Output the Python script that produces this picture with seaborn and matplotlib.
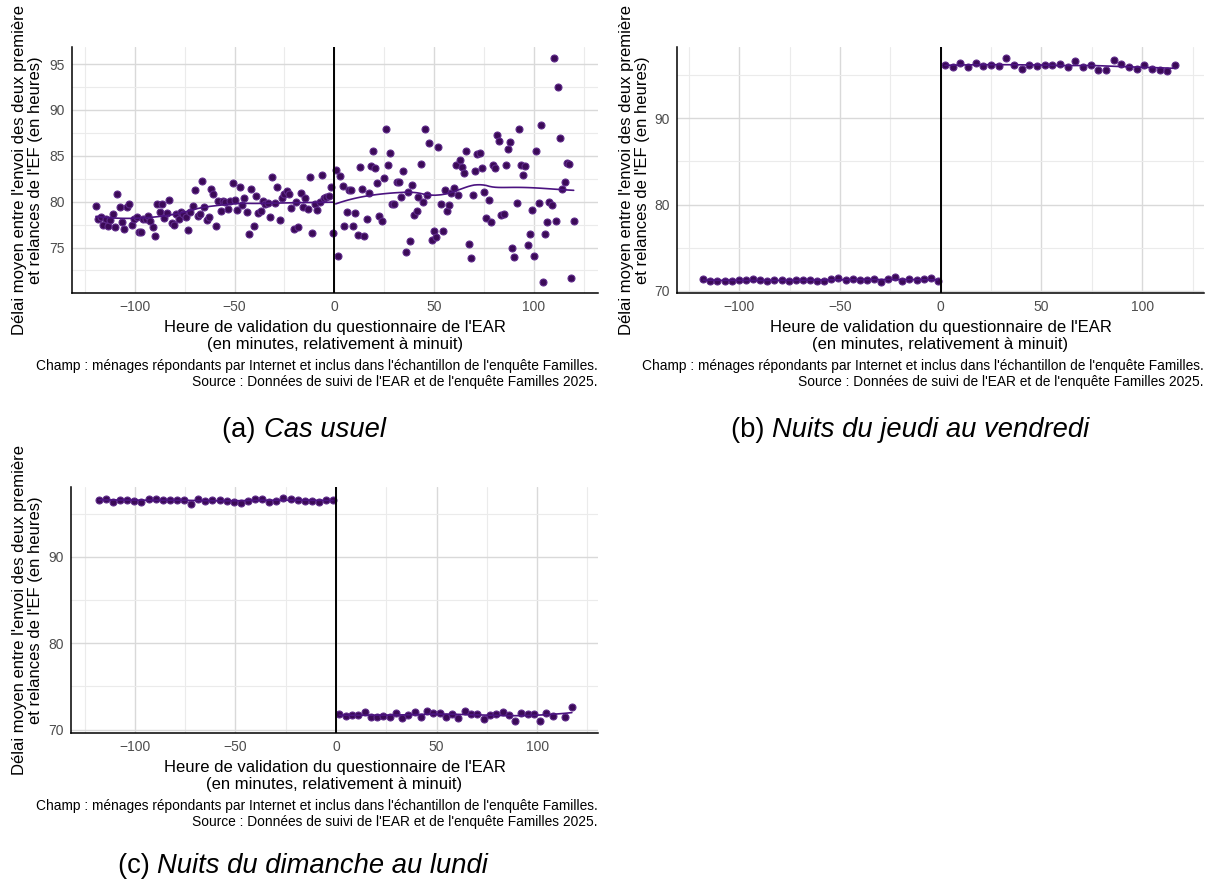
import numpy as np
import pandas as pd
import seaborn as sns
from matplotlib import pyplot as plt

# ---- data (minutes vs hours) ----
# (a) cas usuel
a_left_x = [-119.5, -118.4, -117.2, -115.8, -114.7, -113.6, -112.3, -111.1, -110.0, -108.8,
            -107.6, -106.5, -105.3, -104.0, -102.8, -101.6, -100.3, -99.1, -97.9, -96.9,
            -95.8, -94.6, -93.4, -92.3, -91.1, -89.9, -88.8, -87.6, -86.3, -85.3,
            -84.1, -82.9, -81.5, -80.4, -79.2, -78.0, -76.9, -75.7, -74.5, -73.4,
            -72.2, -71.0, -69.9, -68.5, -67.4, -66.4, -65.2, -64.0, -62.8, -61.8,
            -60.7, -59.3, -58.2, -57.0, -55.8, -54.7, -53.5, -52.2, -51.0, -49.8,
            -48.6, -47.4, -46.3, -45.1, -43.9, -42.8, -41.6, -40.4, -39.3, -38.1,
            -36.9, -35.8, -34.6, -33.4, -32.1, -31.1, -29.9, -28.7, -27.4, -26.2,
            -25.1, -23.9, -22.7, -21.6, -20.4, -19.2, -18.1, -16.9, -15.7, -14.5,
            -13.3, -12.2, -11.0, -9.8, -8.5, -7.3, -6.3, -5.2, -4.0, -2.8, -1.7, -0.5]
a_left_y = [79.53, 78.10, 78.30, 77.46, 78.10, 77.30, 78.00, 78.66, 77.20, 80.80,
            79.40, 77.80, 77.00, 79.45, 79.70, 77.50, 78.10, 78.30, 76.66, 76.70,
            78.15, 78.10, 78.40, 77.90, 77.20, 76.26, 79.80, 78.84, 79.75, 78.25,
            78.80, 80.20, 77.70, 77.50, 78.70, 78.10, 78.90, 78.70, 78.30, 76.90,
            78.90, 79.50, 81.30, 78.40, 78.70, 82.26, 79.45, 78.00, 78.30, 81.35,
            80.84, 77.40, 80.08, 79.00, 80.08, 79.97, 79.24, 80.08, 82.00, 80.15,
            79.10, 81.57, 79.64, 80.44, 78.90, 76.48, 81.35, 77.35, 80.62, 78.80,
            78.99, 80.08, 79.75, 79.89, 78.30, 82.66, 79.89, 81.64, 78.00, 80.37,
            80.80, 81.17, 80.80, 79.35, 76.99, 80.00, 77.27, 80.98, 79.45, 80.37,
            79.20, 82.73, 76.62, 79.72, 79.10, 79.97, 82.88, 80.44, 80.55, 80.65, 81.64, 76.62]
a_right_x = [0.7, 1.9, 3.0, 4.2, 5.0, 6.2, 7.4, 8.5, 9.5, 10.5,
             11.7, 12.9, 13.9, 15.0, 16.2, 17.3, 18.3, 19.4, 20.6, 21.6,
             22.6, 23.8, 24.9, 26.1, 27.1, 28.1, 29.1, 30.1, 31.3, 32.4,
             33.6, 34.6, 35.8, 37.0, 38.0, 39.1, 40.1, 41.3, 42.1, 43.3,
             44.5, 45.6, 46.6, 47.6, 48.8, 50.0, 51.2, 52.2, 53.4, 54.4,
             55.4, 56.5, 57.7, 58.7, 59.9, 60.9, 62.0, 63.0, 64.0, 65.0,
             66.2, 67.6, 68.6, 69.7, 70.7, 71.7, 72.9, 74.1, 75.1, 76.2,
             77.4, 78.4, 79.4, 80.6, 81.7, 82.7, 83.7, 84.9, 86.1, 87.1,
             88.3, 89.3, 90.3, 91.5, 92.5, 93.5, 94.6, 95.8, 97.0, 98.0,
             99.2, 100.3, 101.3, 102.5, 103.5, 104.7, 105.8, 106.8, 107.8, 109.0,
             110.2, 111.2, 112.2, 113.3, 114.3, 115.5, 116.5, 117.7, 118.9, 120.0]
a_right_y = [83.50, 74.10, 82.80, 81.70, 77.35, 78.84, 81.28, 81.28, 77.35, 78.73,
             76.37, 83.78, 81.42, 76.23, 78.15, 80.90, 83.90, 85.50, 83.64, 82.07,
             78.44, 77.90, 82.62, 87.93, 84.00, 85.28, 79.75, 79.75, 82.15, 82.18,
             80.55, 83.38, 74.55, 81.06, 75.68, 81.79, 78.55, 78.99, 80.48, 84.11,
             80.00, 87.96, 80.70, 86.37, 75.82, 76.84, 76.18, 85.93, 79.75, 76.80,
             81.24, 79.02, 79.64, 80.98, 81.53, 83.97, 80.73, 84.51, 83.75, 83.16,
             85.50, 75.39, 73.86, 80.76, 83.38, 85.20, 85.34, 83.64, 81.09, 78.22,
             80.15, 77.75, 84.03, 83.64, 87.27, 86.62, 78.58, 78.66, 84.03, 85.71,
             86.54, 74.92, 73.97, 79.83, 87.96, 84.03, 82.94, 83.86, 75.28, 76.45,
             79.10, 74.08, 85.50, 79.89, 88.36, 71.21, 76.48, 77.82, 79.97, 79.64,
             95.67, 77.90, 92.48, 86.91, 81.38, 82.18, 84.22, 84.08, 71.65, 77.90]

# (b) nuits du jeudi au vendredi / (c) nuits du dimanche au lundi
bins_left_x = [-117.9, -114.4, -110.9, -107.3, -103.8, -100.3, -96.8, -93.2, -89.7, -86.2,
               -82.6, -79.1, -75.6, -72.1, -68.5, -65.0, -61.5, -57.9, -54.4, -50.9,
               -47.3, -43.8, -40.3, -36.8, -33.2, -29.7, -26.2, -22.6, -19.1, -15.6,
               -12.0, -8.5, -5.0, -1.5]
b_left_y = [71.32, 71.17, 71.17, 71.17, 71.17, 71.24, 71.24, 71.32, 71.24, 71.09,
            71.24, 71.24, 71.17, 71.24, 71.24, 71.24, 71.09, 71.17, 71.32, 71.52,
            71.24, 71.40, 71.24, 71.24, 71.40, 71.01, 71.40, 71.56, 71.09, 71.32,
            71.24, 71.40, 71.48, 71.09]
b_right_x = [2.1, 5.9, 9.7, 13.5, 17.3, 21.1, 24.9, 28.8, 32.6, 36.4,
             40.2, 44.0, 47.8, 51.6, 55.4, 59.2, 63.0, 66.8, 70.6, 74.4,
             78.3, 82.1, 85.9, 89.7, 93.5, 97.3, 101.1, 104.9, 108.7, 112.5, 116.3]
b_right_y = [96.18, 95.95, 96.45, 95.95, 96.45, 96.07, 96.22, 96.07, 97.03, 96.18,
             95.68, 96.14, 96.07, 96.18, 96.18, 96.30, 95.99, 96.61, 95.95, 96.18,
             95.56, 95.56, 96.76, 96.34, 95.91, 95.68, 96.18, 95.72, 95.60, 95.53, 96.22]
c_left_y = [96.62, 96.74, 96.35, 96.62, 96.62, 96.43, 96.39, 96.66, 96.66, 96.62,
            96.54, 96.54, 96.54, 96.16, 96.74, 96.47, 96.62, 96.62, 96.47, 96.39,
            96.24, 96.47, 96.66, 96.66, 96.39, 96.47, 96.85, 96.70, 96.62, 96.47,
            96.47, 96.31, 96.54, 96.62]
c_right_x = [1.7, 4.8, 8.0, 11.1, 14.3, 17.3, 20.4, 23.6, 26.7, 29.9,
             32.8, 36.0, 39.1, 42.3, 45.3, 48.4, 51.6, 54.7, 57.9, 60.9,
             64.0, 67.2, 70.3, 73.5, 76.6, 79.8, 82.9, 86.1, 89.1, 92.2,
             95.4, 98.5, 101.7, 104.6, 107.8, 114.1, 117.3]
c_right_y = [71.77, 71.54, 71.69, 71.73, 72.00, 71.50, 71.50, 71.62, 71.50, 71.92,
             71.35, 71.73, 72.00, 71.50, 72.15, 71.92, 71.92, 71.50, 71.85, 71.38,
             72.15, 71.81, 71.81, 71.27, 71.65, 71.77, 72.04, 71.69, 70.96, 71.96,
             71.77, 71.81, 71.00, 71.88, 71.62, 71.50, 72.58]

y_title = "Délai moyen entre l'envoi des deux première\net relances de l'EF (en heures)"
x_title = "Heure de validation du questionnaire de l'EAR\n(en minutes, relativement à minuit)"
note = ("Champ : ménages répondants par Internet et inclus dans l'échantillon de l'enquête Familles.\n"
        "Source : Données de suivi de l'EAR et de l'enquête Familles 2025.")

PURPLE = "#4b1380"
W, H = 1215, 884


def loess(x, y, grid, span=0.75):
    # local quadratic fit with tricube weights (like geom_smooth default)
    x = np.asarray(x, float)
    y = np.asarray(y, float)
    q = int(np.floor(span * len(x)))
    out = []
    for g in grid:
        d = np.abs(x - g)
        h = np.sort(d)[q - 1]
        w = np.clip(1 - (d / h) ** 3, 0, None) ** 3
        X = np.vstack([np.ones_like(x), x - g, (x - g) ** 2]).T
        sw = np.sqrt(w)
        beta = np.linalg.lstsq(X * sw[:, None], y * sw, rcond=None)[0]
        out.append(beta[0])
    return np.array(out)


def px_axes(l, t, r, b):
    return fig.add_axes([l / W, 1 - b / H, (r - l) / W, (b - t) / H])


def panel(ax, sides, xlim, ylim, yticks, yminor):
    for xs, ys in sides:
        df = pd.DataFrame({"x": xs, "y": ys})
        sns.scatterplot(data=df, x="x", y="y", ax=ax, color="#3b0a57", edgecolor="#5e2a8a",
                        linewidth=0.8, s=25, zorder=3)
        grid = np.linspace(min(xs), max(xs), 80)
        sns.lineplot(x=grid, y=loess(xs, ys, grid), ax=ax, color=PURPLE, lw=1.2, zorder=4)
    ax.axvline(0, color="black", lw=1.4, zorder=5)
    ax.set_xlim(*xlim)
    ax.set_ylim(*ylim)
    ax.set_xticks([-100, -50, 0, 50, 100])
    ax.set_xticklabels(["\u2212100", "\u221250", "0", "50", "100"])
    ax.set_xticks([-125, -75, -25, 25, 75, 125], minor=True)
    ax.set_yticks(yticks)
    ax.set_yticks(yminor, minor=True)
    ax.grid(which="major", color="#d9d9d9", lw=1.0)
    ax.grid(which="minor", color="#ebebeb", lw=0.8)
    ax.set_axisbelow(True)
    ax.tick_params(which="major", length=3, width=0.8, color="#333333", labelsize=10,
                   labelcolor="#4d4d4d", pad=2)
    ax.tick_params(which="minor", length=0)
    for s in ["top", "right"]:
        ax.spines[s].set_visible(False)
    for s in ["left", "bottom"]:
        ax.spines[s].set_color("black")
        ax.spines[s].set_linewidth(1.1)
    ax.set_xlabel("")
    ax.set_ylabel("")


def texts(ax_l, ax_r, ax_t, ax_b, ylab_x, cap_cx, cap_y, letter, title):
    cx = (ax_l + ax_r) / 2
    fig.text(ylab_x / W, 1 - (ax_t + ax_b) / 2 / H, y_title, rotation=90, ha="center", va="center",
             multialignment="center", fontsize=12, linespacing=1.05, color="black")
    fig.text(cx / W, 1 - (ax_b + 43) / H, x_title, ha="center", va="center",
             multialignment="center", fontsize=12, linespacing=1.2, color="black")
    fig.text(ax_r / W, 1 - (ax_b + 81) / H, note, ha="right", va="center",
             multialignment="right", fontsize=9.9, linespacing=1.2, color="black")
    rend = fig.canvas.get_renderer()
    t1 = fig.text(0, 1 - cap_y / H, letter + " ", fontsize=19.7, va="center", color="black")
    t2 = fig.text(0, 1 - cap_y / H, title, fontsize=19.7, va="center", style="italic",
                  color="black")
    w1 = t1.get_window_extent(rend).width
    w2 = t2.get_window_extent(rend).width
    x0 = cap_cx - (w1 + w2) / 2
    t1.set_x(x0 / W)
    t2.set_x((x0 + w1) / W)


sns.set_style("white")
plt.rcParams["font.family"] = ["Liberation Sans", "DejaVu Sans"]

fig = plt.figure(figsize=(W / 100, H / 100), dpi=100)

ax_a = px_axes(72, 47, 598, 293)
panel(ax_a, [(a_left_x, a_left_y), (a_right_x, a_right_y)], (-131.5, 132.2), (70.04, 96.87),
      [75, 80, 85, 90, 95], [72.5, 77.5, 82.5, 87.5, 92.5])
texts(72, 598, 47, 293, 27.5, 304, 430, "(a)", "Cas usuel")

ax_b = px_axes(677, 47, 1204, 293)
panel(ax_b, [(bins_left_x, b_left_y), (b_right_x, b_right_y)], (-131.0, 130.7), (69.75, 98.27),
      [70, 80, 90], [75, 85, 95])
texts(677, 1204, 47, 293, 634.5, 910, 430, "(b)", "Nuits du jeudi au vendredi")

ax_c = px_axes(71, 487, 598, 733)
panel(ax_c, [(bins_left_x, c_left_y), (c_right_x, c_right_y)], (-131.8, 130.3), (69.62, 98.08),
      [70, 80, 90], [75, 85, 95])
texts(71, 598, 487, 733, 27.5, 303, 866, "(c)", "Nuits du dimanche au lundi")

fig.savefig("out.png", dpi=100)
